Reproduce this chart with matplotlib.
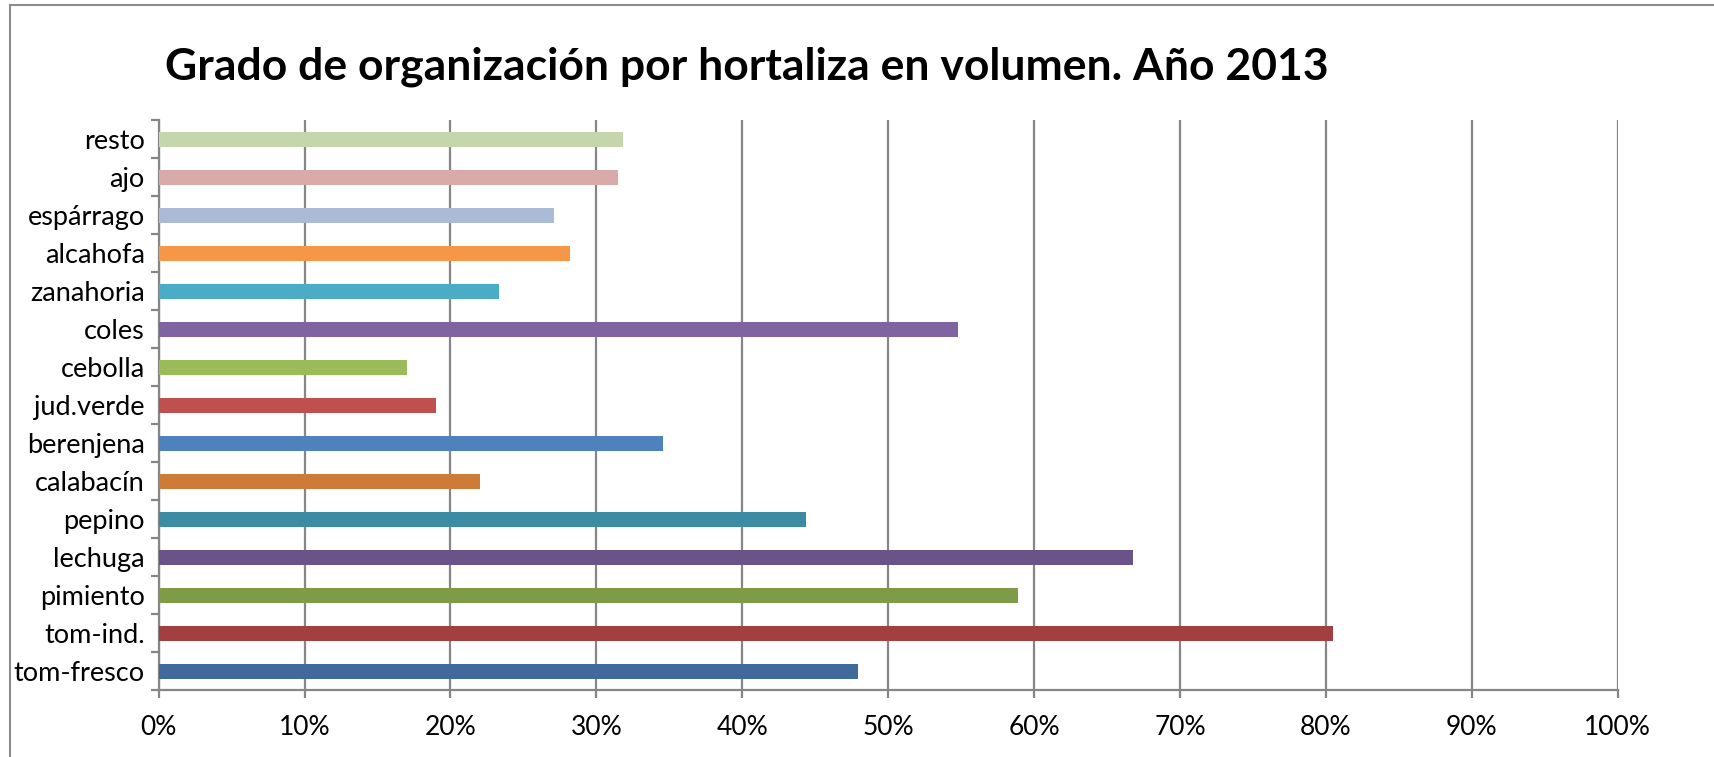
import matplotlib

matplotlib.use("Agg")
import matplotlib.pyplot as plt
from matplotlib.lines import Line2D
from matplotlib.ticker import FixedLocator, PercentFormatter

# data, bottom to top as drawn
categories = ["tom-fresco", "tom-ind.", "pimiento", "lechuga", "pepino",
              "calabacín", "berenjena", "jud.verde", "cebolla", "coles",
              "zanahoria", "alcahofa", "espárrago", "ajo", "resto"]
values = [47.9, 80.5, 58.9, 66.8, 44.4,
          22.0, 34.6, 19.0, 17.0, 54.8,
          23.3, 28.2, 27.1, 31.5, 31.8]
colors = ["#3F6A9B", "#A2403F", "#7E9B48", "#6A5389", "#3B8BA2",
          "#CD7B37", "#4F81BD", "#C0504D", "#9BBB59", "#8064A2",
          "#4BACC6", "#F79646", "#AABAD7", "#D9AAA9", "#C6D6AC"]
x_ticks = list(range(0, 101, 10))

plt.rcParams["font.family"] = ["Lato", "DejaVu Sans"]

fig = plt.figure(figsize=(17.15, 7.57), dpi=100)
fig.patch.set_facecolor("white")
ax = fig.add_axes([0.0925, 0.0882, 0.8508, 0.7528])

grid_c = "#868686"
pos = list(range(len(categories)))
ax.barh(pos, values, height=0.4, color=colors, zorder=3)

ax.set_xlim(0, 100)
ax.set_ylim(-0.5, len(categories) - 0.5)
ax.set_xticks(x_ticks)
ax.xaxis.set_major_formatter(PercentFormatter(decimals=0))
ax.set_yticks(pos)
ax.set_yticklabels(categories)
ax.yaxis.set_minor_locator(FixedLocator([p - 0.5 for p in pos] + [len(pos) - 0.5]))

ax.grid(axis="x", color=grid_c, linewidth=1.6, zorder=0)
for side in ("top", "right"):
    ax.spines[side].set_visible(False)
for side in ("left", "bottom"):
    ax.spines[side].set_color(grid_c)
    ax.spines[side].set_linewidth(1.6)

ax.tick_params(axis="y", which="major", length=0, pad=10, labelsize=19.5)
ax.tick_params(axis="y", which="minor", length=6, width=1.6, color=grid_c)
ax.tick_params(axis="x", length=6, width=1.6, color=grid_c, pad=12, labelsize=19)

fig.text(0.4355, 0.895, "Grado de organización por hortaliza en volumen. Año 2013",
         ha="center", va="baseline", fontsize=32, fontweight="bold")

# chart frame: only top and left edges are visible in the crop
frame_c = "#8C8C8C"
fig.lines.append(Line2D([0.006, 0.006], [0.0, 0.994], transform=fig.transFigure,
                        color=frame_c, linewidth=1.5))
fig.lines.append(Line2D([0.006, 1.0], [0.994, 0.994], transform=fig.transFigure,
                        color=frame_c, linewidth=1.5))

fig.savefig("out.png", dpi=100, facecolor="white")
